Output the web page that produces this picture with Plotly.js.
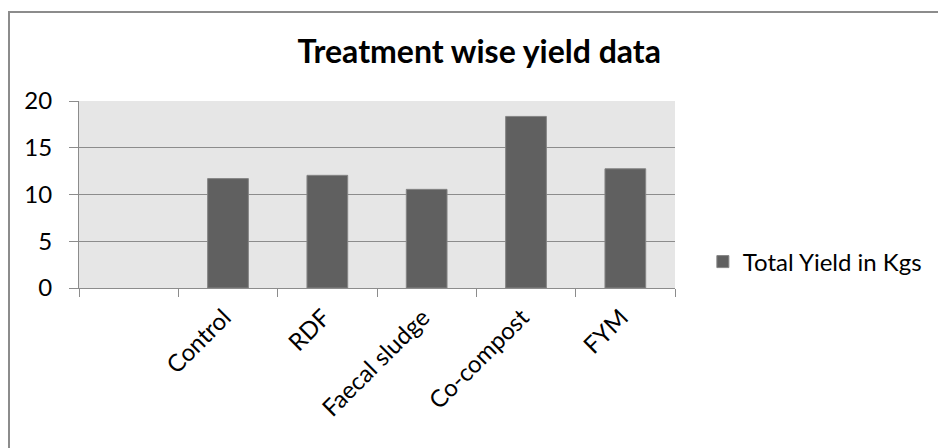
<!DOCTYPE html>
<html>
<head>
<meta charset="utf-8">
<script src="https://cdn.plot.ly/plotly-3.0.1.min.js"></script>
<style>
html,body{margin:0;padding:0;background:#fff;}
#wrap{position:relative;width:938px;height:448px;overflow:hidden;}
#chart{position:absolute;left:0;top:0;width:938px;height:448px;}
#frame{position:absolute;left:8px;top:11px;width:940px;height:450px;border-left:2px solid #8c8c8c;border-top:2px solid #8c8c8c;pointer-events:none;box-sizing:border-box;}
</style>
</head>
<body>
<div id="wrap"><div id="chart"></div><div id="frame"></div></div>
<script>
// Data (first slot is empty in the source)
const categories = [" ", "Control", "RDF", "Faecal sludge", "Co-compost", "FYM"];
const yieldKgs = [null, 11.7, 12.05, 10.55, 18.35, 12.75];
const seriesName = "Total Yield in Kgs";
const chartTitle = "Treatment wise yield data";
const yTicks = [0, 5, 10, 15, 20];

const FONT = "Lato, 'Open Sans', sans-serif";

const trace = {
  type: "bar",
  x: categories,
  y: yieldKgs,
  name: seriesName,
  showlegend: true,
  marker: { color: "#606060", line: { color: "#858585", width: 1 } },
  hoverinfo: "x+y"
};

const layout = {
  width: 938,
  height: 448,
  margin: { l: 79, r: 262, t: 101, b: 160, pad: 0 },
  paper_bgcolor: "#ffffff",
  plot_bgcolor: "#e6e6e6",
  font: { family: FONT, color: "#000000", size: 24 },
  title: {
    text: "<b>" + chartTitle + "</b>",
    font: { family: FONT, size: 32, color: "#000000" },
    xref: "container", yref: "container",
    x: 0.511, xanchor: "center",
    y: 0.884, yanchor: "middle"
  },
  bargap: 0.59,
  xaxis: {
    type: "category",
    categoryorder: "array",
    categoryarray: categories,
    tickson: "boundaries",
    ticks: "outside",
    ticklen: 8,
    tickcolor: "#8c8c8c",
    tickwidth: 1,
    tickangle: -45,
    ticklabelshift: -4,
    ticklabelstandoff: 5,
    tickfont: { family: FONT, size: 24, color: "#000000" },
    showline: true,
    linecolor: "#8c8c8c",
    linewidth: 1,
    showgrid: false,
    zeroline: false,
    fixedrange: true
  },
  yaxis: {
    range: [0, 20],
    tickvals: yTicks,
    ticktext: yTicks.map(String),
    ticks: "outside",
    ticklen: 9,
    tickcolor: "#8c8c8c",
    tickwidth: 1,
    ticklabelstandoff: 12,
    tickfont: { family: FONT, size: 24, color: "#000000" },
    showline: true,
    linecolor: "#8c8c8c",
    linewidth: 1,
    showgrid: true,
    gridcolor: "#8c8c8c",
    gridwidth: 1,
    zeroline: false,
    fixedrange: true
  },
  legend: {
    x: 1.045, xanchor: "left",
    y: 0.139, yanchor: "middle",
    font: { family: FONT, size: 24, color: "#000000" },
    bgcolor: "rgba(0,0,0,0)",
    itemwidth: 30
  },
  showlegend: true
};

Plotly.newPlot("chart", [trace], layout, { displayModeBar: false, staticPlot: true });
</script>
</body>
</html>
